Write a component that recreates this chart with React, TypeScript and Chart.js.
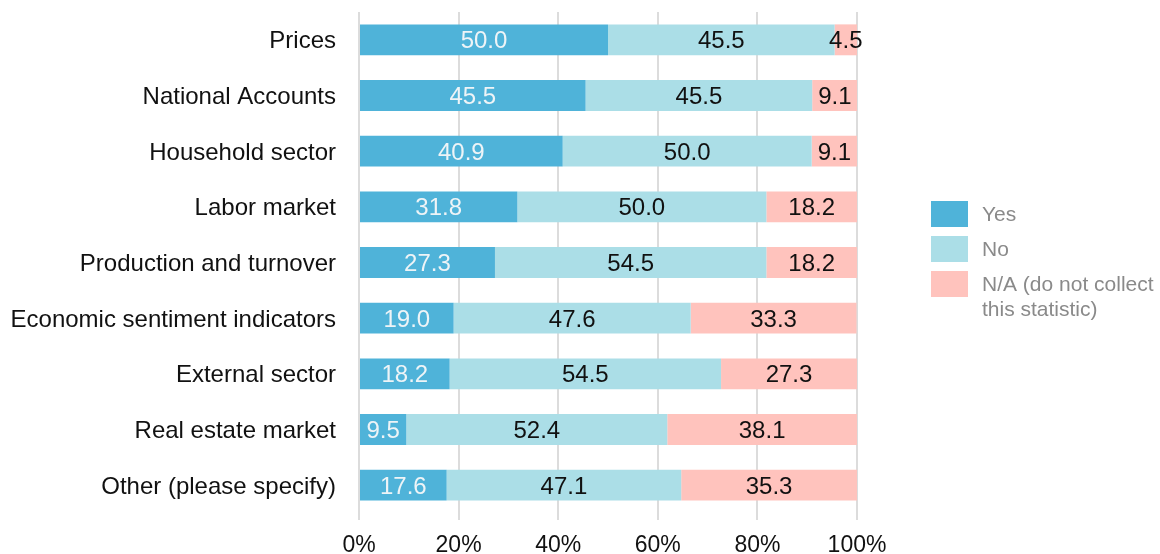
import React, { useEffect, useRef } from "react";
import { Chart, registerables } from "chart.js";

Chart.register(...registerables);

const categories = [
  "Prices",
  "National Accounts",
  "Household sector",
  "Labor market",
  "Production and turnover",
  "Economic sentiment indicators",
  "External sector",
  "Real estate market",
  "Other (please specify)",
];

const yesValues = [50.0, 45.5, 40.9, 31.8, 27.3, 19.0, 18.2, 9.5, 17.6];
const noValues = [45.5, 45.5, 50.0, 50.0, 54.5, 47.6, 54.5, 52.4, 47.1];
const naValues = [4.5, 9.1, 9.1, 18.2, 18.2, 33.3, 27.3, 38.1, 35.3];

const seriesLabels = ["Yes", "No", ["N/A (do not collect", "this statistic)"]];
const seriesColors = ["#4FB3D9", "#ABDEE7", "#FFC3BD"];
const valueLabelColors = ["#EEF4F7", "#111111", "#111111"];
const xTicks = [0, 20, 40, 60, 80, 100];

const FONT = "'Liberation Sans', Arial, sans-serif";

const valueLabelPlugin = {
  id: "valueLabels",
  afterDatasetsDraw(chart: any) {
    const ctx = chart.ctx;
    ctx.save();
    ctx.font = `24px ${FONT}`;
    ctx.textAlign = "center";
    ctx.textBaseline = "middle";
    chart.data.datasets.forEach((ds: any, di: number) => {
      const meta = chart.getDatasetMeta(di);
      meta.data.forEach((bar: any, i: number) => {
        const v = ds.data[i];
        const cx = (bar.x + bar.base) / 2;
        ctx.fillStyle = valueLabelColors[di];
        ctx.fillText(Number(v).toFixed(1), cx, bar.y + 2);
      });
    });
    ctx.restore();
  },
};

const legendPlugin = {
  id: "customLegend",
  afterDraw(chart: any) {
    const ctx = chart.ctx;
    ctx.save();
    ctx.font = `21px ${FONT}`;
    ctx.textAlign = "left";
    ctx.textBaseline = "middle";
    const boxX = 931;
    const boxW = 37;
    const boxH = 26;
    const tops = [201, 236, 271];
    seriesLabels.forEach((lab: any, i: number) => {
      ctx.fillStyle = seriesColors[i];
      ctx.fillRect(boxX, tops[i], boxW, boxH);
      ctx.fillStyle = "#8A8A8A";
      const lines = Array.isArray(lab) ? lab : [lab];
      lines.forEach((ln: string, j: number) => {
        ctx.fillText(ln, 982, tops[i] + boxH / 2 + 1 + j * 25);
      });
    });
    ctx.restore();
  },
};

export default function App() {
  const ref = useRef<HTMLCanvasElement | null>(null);
  useEffect(() => {
    if (!ref.current) return;
    const datasetsValues = [yesValues, noValues, naValues];
    const chart = new Chart(ref.current, {
      type: "bar",
      data: {
        labels: categories,
        datasets: datasetsValues.map((vals, i) => ({
          label: Array.isArray(seriesLabels[i]) ? (seriesLabels[i] as string[]).join(" ") : (seriesLabels[i] as string),
          data: vals,
          backgroundColor: seriesColors[i],
          borderWidth: 0,
          barPercentage: 0.555,
          categoryPercentage: 1,
        })),
      },
      options: {
        indexAxis: "y",
        animation: false,
        responsive: false,
        maintainAspectRatio: false,
        layout: { padding: { top: 12, right: 303, bottom: 0, left: 0 } },
        plugins: {
          legend: { display: false },
          tooltip: { enabled: false },
        },
        scales: {
          x: {
            stacked: true,
            min: 0,
            max: 100,
            afterBuildTicks(scale: any) {
              scale.ticks = xTicks.map((v) => ({ value: v }));
            },
            afterFit(scale: any) {
              scale.height = 41;
              scale.paddingLeft = 0;
              scale.paddingRight = 0;
            },
            grid: { color: "#DCDCDC", lineWidth: 2, drawTicks: true, tickLength: 7, tickColor: "#DCDCDC" },
            border: { display: false },
            ticks: {
              padding: 12,
              color: "#111111",
              font: { family: FONT, size: 23 },
              callback: (v: any) => `${v}%`,
              maxRotation: 0,
            },
          },
          y: {
            stacked: true,
            afterFit(scale: any) {
              scale.width = 359;
              scale.paddingTop = 0;
              scale.paddingBottom = 0;
            },
            grid: { display: false, drawTicks: false },
            border: { display: false },
            ticks: {
              padding: 23,
              labelOffset: 2,
              color: "#111111",
              font: { family: FONT, size: 24 },
              autoSkip: false,
            },
          },
        },
      },
      plugins: [valueLabelPlugin, legendPlugin],
    } as any);
    return () => chart.destroy();
  }, []);
  return (
    <div style={{ position: "fixed", left: 0, top: 0, width: 1160, height: 554, background: "#fff" }}>
      <canvas ref={ref} width={1160} height={554} style={{ display: "block", width: 1160, height: 554 }} />
    </div>
  );
}
